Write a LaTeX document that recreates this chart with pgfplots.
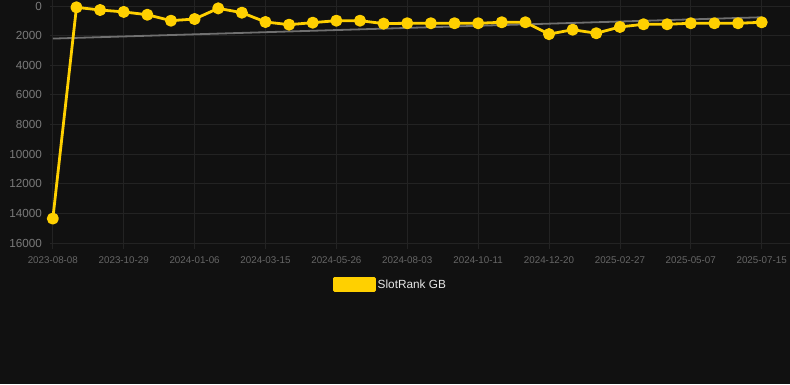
\documentclass[border=0pt]{standalone}
\usepackage{pgfplots}
\pgfplotsset{compat=1.18}
\usepackage{fontspec}
\setmainfont{Liberation Sans}
\definecolor{bg}{HTML}{111111}
\definecolor{gridc}{HTML}{232323}
\definecolor{xlab}{HTML}{666666}
\definecolor{ylab}{HTML}{7A7A7A}
\definecolor{gold}{HTML}{FFD000}
\definecolor{trend}{HTML}{707070}
\definecolor{legtext}{HTML}{E6E6E6}
\begin{document}
\begin{tikzpicture}[x=1bp,y=1bp]
\fill[bg] (0,0) rectangle (790,384);
\useasboundingbox (0,0) rectangle (790,384);
\begin{axis}[
  at={(50bp,141bp)}, anchor=south west,
  width=740bp, height=237bp, scale only axis,
  xmin=-0.12, xmax=31.2,
  ymin=0, ymax=16000, y dir=reverse,
  ytick={0,2000,...,16000},
  scaled y ticks=false,
  xtick={0,3,...,30},
  xticklabels={2023-08-08,2023-10-29,2024-01-06,2024-03-15,2024-05-26,2024-08-03,2024-10-11,2024-12-20,2025-02-27,2025-05-07,2025-07-15},
  /pgf/number format/assume math mode=true,
  /pgf/number format/1000 sep={},
  grid=major,
  major grid style={gridc, line width=0.8bp},
  axis line style={draw=none},
  tick align=outside,
  major tick length=6bp,
  xtick style={gridc, line width=0.8bp},
  ytick style={draw=none},
  xticklabel style={font=\fontsize{9.8bp}{11bp}\selectfont, text=xlab, yshift=-4bp},
  yticklabel style={font=\fontsize{11.7bp}{13bp}\selectfont, text=ylab, xshift=1.5bp},
  clip=false,
  legend style={at={(axis description cs:0.460,-0.176)}, anchor=center, draw=none, fill=none,
    font=\fontsize{11.8bp}{13bp}\selectfont, text=legtext, inner sep=0pt},
  legend cell align=left,
]
\addplot[trend, line width=1.8bp, forget plot] coordinates {(0,2200) (30,760)};
\addplot[gold, line width=2.8bp, line join=round, mark=*, mark size=4.6bp, mark options={fill=gold, draw=none, solid},
  legend image code/.code={\fill[gold] (0bp,-6bp) rectangle (40bp,6bp);}]
table {
x y
0 14350
1 90
2 270
3 400
4 590
5 990
6 880
7 160
8 450
9 1080
10 1260
11 1125
12 990
13 990
14 1190
15 1165
16 1165
17 1165
18 1165
19 1100
20 1100
21 1900
22 1600
23 1840
24 1415
25 1235
26 1235
27 1165
28 1165
29 1165
30 1100
};
\addlegendentry{SlotRank GB}
\end{axis}
\end{tikzpicture}
\end{document}
